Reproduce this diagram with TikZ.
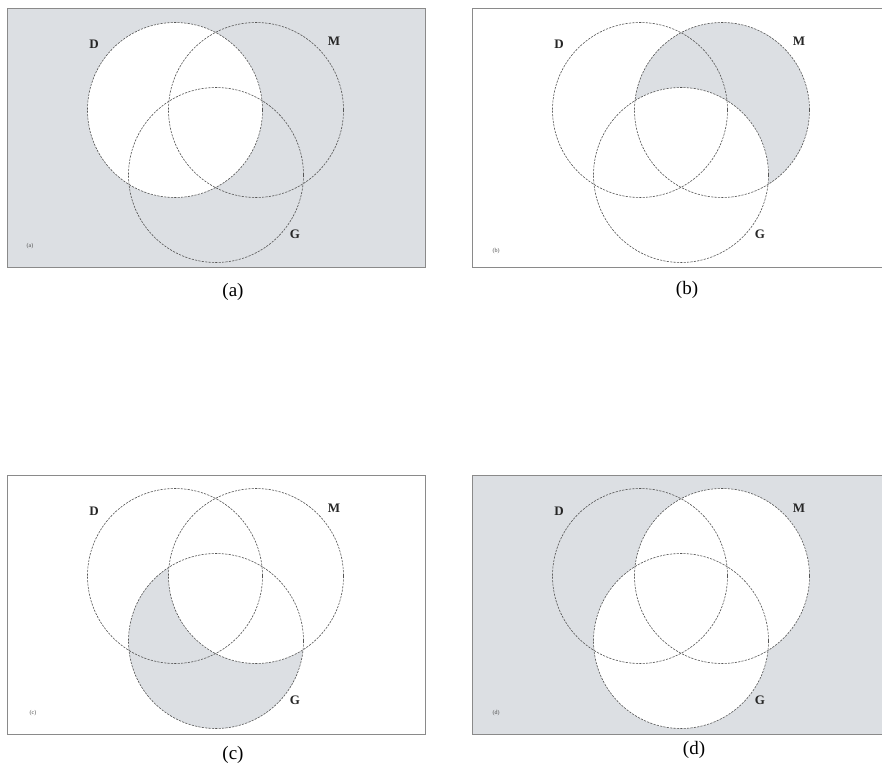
\documentclass[tikz,border=0pt]{standalone}
\usepackage{fontspec}
\setmainfont{Liberation Serif}
\definecolor{vgray}{HTML}{DCDFE3}
\definecolor{framecol}{HTML}{8A8A8A}
\definecolor{circcol}{HTML}{555555}
\tikzset{
  vcirc/.style={draw=circcol, line width=0.6pt, dash pattern=on 2.2pt off 1.2pt},
  framebox/.style={draw=framecol, line width=1pt},
  setlabel/.style={font=\fontsize{13}{13}\selectfont\bfseries, text=black!85},
  tinylabel/.style={font=\fontsize{6}{6}\selectfont, text=black!70},
  caption/.style={font=\fontsize{19}{19}\selectfont}
}
\begin{document}
\begin{tikzpicture}[x=1pt,y=-1pt]
\useasboundingbox (0,0) rectangle (882,770);
% ---------- panel (a): complement of D ----------
\begin{scope}[shift={(7,9)}]
  \coordinate (Da) at (168,101);
  \coordinate (Ma) at (249,101);
  \coordinate (Ga) at (209,166);
  \fill[vgray] (0,0) rectangle (418,258);
  \fill[white] (Da) circle[radius=87.5];
  \draw[framebox] (0,0) rectangle (418,258);
  \draw[vcirc] (Da) circle[radius=87.5];
  \draw[vcirc] (Ma) circle[radius=87.5];
  \draw[vcirc] (Ga) circle[radius=87.5];
  \node[setlabel] (lDa) at (87,35) {D};
  \node[setlabel] (lMa) at (327,32) {M};
  \node[setlabel] (lGa) at (288,225) {G};
  \node[tinylabel] (sa) at (23,237) {(a)};
  \node[caption] (ca) at (226,283) {(a)};
\end{scope}
% ---------- panel (b): M minus G ----------
\begin{scope}[shift={(472,9)}]
  \coordinate (Db) at (168,101);
  \coordinate (Mb) at (250,101);
  \coordinate (Gb) at (209,166);
  \fill[vgray] (Mb) circle[radius=87.5];
  \fill[white] (Gb) circle[radius=87.5];
  \draw[framebox] (415,0) -- (0,0) -- (0,258) -- (415,258);
  \draw[vcirc] (Db) circle[radius=87.5];
  \draw[vcirc] (Mb) circle[radius=87.5];
  \draw[vcirc] (Gb) circle[radius=87.5];
  \node[setlabel] (lDb) at (87,35) {D};
  \node[setlabel] (lMb) at (327,32) {M};
  \node[setlabel] (lGb) at (288,225) {G};
  \node[tinylabel] (sb) at (24,242) {(b)};
  \node[caption] (cb) at (215,281) {(b)};
\end{scope}
% ---------- panel (c): G minus M ----------
\begin{scope}[shift={(7,475)}]
  \coordinate (Dc) at (168,101);
  \coordinate (Mc) at (249,101);
  \coordinate (Gc) at (209,166);
  \fill[vgray] (Gc) circle[radius=87.5];
  \fill[white] (Mc) circle[radius=87.5];
  \draw[framebox] (0,0) rectangle (418,259);
  \draw[vcirc] (Dc) circle[radius=87.5];
  \draw[vcirc] (Mc) circle[radius=87.5];
  \draw[vcirc] (Gc) circle[radius=87.5];
  \node[setlabel] (lDc) at (87,36) {D};
  \node[setlabel] (lMc) at (327,33) {M};
  \node[setlabel] (lGc) at (288,225) {G};
  \node[tinylabel] (sc) at (26,238) {(c)};
  \node[caption] (cc) at (226,280) {(c)};
\end{scope}
% ---------- panel (d): complement of M union G ----------
\begin{scope}[shift={(472,475)}]
  \coordinate (Dd) at (168,101);
  \coordinate (Md) at (250,101);
  \coordinate (Gd) at (209,166);
  \fill[vgray] (0,0) rectangle (415,259);
  \fill[white] (Md) circle[radius=87.5];
  \fill[white] (Gd) circle[radius=87.5];
  \draw[framebox] (415,0) -- (0,0) -- (0,259) -- (415,259);
  \draw[vcirc] (Dd) circle[radius=87.5];
  \draw[vcirc] (Md) circle[radius=87.5];
  \draw[vcirc] (Gd) circle[radius=87.5];
  \node[setlabel] (lDd) at (87,36) {D};
  \node[setlabel] (lMd) at (327,33) {M};
  \node[setlabel] (lGd) at (288,225) {G};
  \node[tinylabel] (sd) at (24,238) {(d)};
  \node[caption] (cd) at (222,275) {(d)};
\end{scope}
\end{tikzpicture}
\end{document}
